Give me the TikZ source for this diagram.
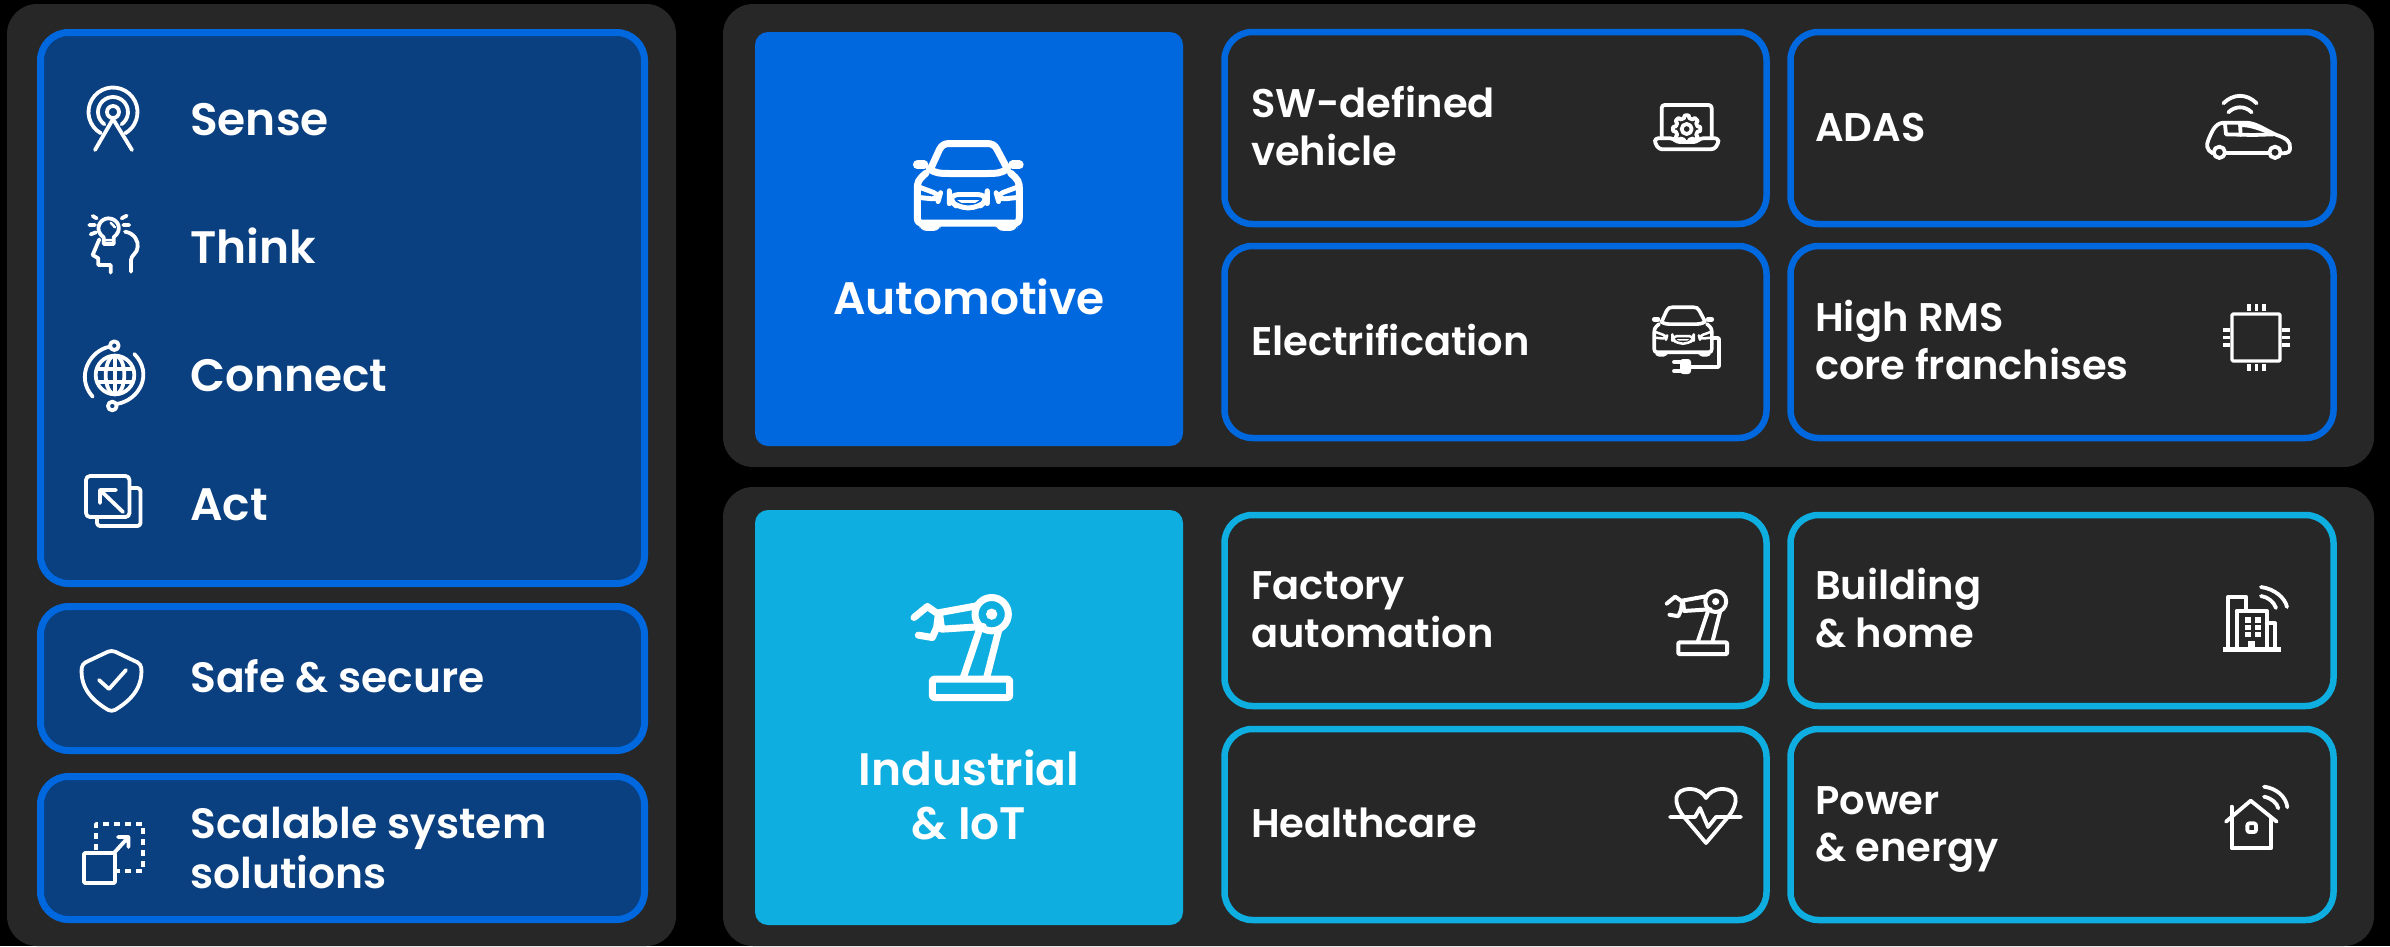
\documentclass[tikz,border=0pt]{standalone}
\usepackage{fontspec}
\setmainfont{Poppins SemiBold}
\definecolor{panel}{HTML}{272727}
\definecolor{mainblue}{HTML}{0068DE}
\definecolor{deepblue}{HTML}{0A3F80}
\definecolor{skyblue}{HTML}{0FAEE1}
\tikzset{
 panelbox/.style={fill=panel,rounded corners=30pt,anchor=north west,inner sep=0pt,outer sep=0pt},
 leftbox/.style={draw=mainblue,fill=deepblue,line width=7pt,rounded corners=28pt,anchor=north west,inner sep=0pt,outer sep=0pt},
 autocard/.style={draw=mainblue,line width=6.5pt,rounded corners=28pt,anchor=north west,inner sep=0pt,outer sep=0pt},
 indcard/.style={draw=skyblue,line width=6.5pt,rounded corners=28pt,anchor=north west,inner sep=0pt,outer sep=0pt},
 headbox/.style={rounded corners=13pt,anchor=north west,inner sep=0pt,outer sep=0pt},
 bigtext/.style={text=white,anchor=base west,align=left,inner sep=0pt,font=\fontsize{45.5}{50}\selectfont},
 lefttext/.style={text=white,anchor=base west,align=left,inner sep=0pt,font=\fontsize{42.4}{50}\selectfont},
 cardtext/.style={text=white,anchor=base west,align=left,inner sep=0pt,font=\fontsize{40}{47.5}\selectfont},
 headtext/.style={text=white,anchor=base,align=center,inner sep=0pt,font=\fontsize{45.5}{54}\selectfont},
 iconline/.style={draw=white,line width=#1,line cap=round,line join=round},
 iconline/.default=3.8pt,
 zoomed/.style 2 args={shift={(#1,#2)},scale=0.33333},
}
\newcommand{\caricon}[4]{%
 \begin{scope}[shift={(#1,#2)},scale=#3/3,shift={(-205,-165)}]
  \draw[iconline=#4] (92,112) -- (118,55) .. controls (125,40) and (135,36) .. (150,36) -- (260,36) .. controls (275,36) and (285,40) .. (292,55) -- (322,112);
  \draw[iconline=#4] (88,112) .. controls (105,125) and (120,126) .. (150,126) -- (260,126) .. controls (290,126) and (305,125) .. (322,112);
  \draw[iconline=#4] (78,125) .. controls (55,145) and (52,150) .. (52,175) -- (52,258) .. controls (52,272) and (58,275) .. (70,275) -- (340,275) .. controls (352,275) and (358,272) .. (358,258) -- (358,175) .. controls (358,150) and (355,145) .. (332,125);
  \draw[iconline=1.25*#4] (52,100) -- (72,100) (338,100) -- (358,100);
  \fill[white,rounded corners=#4] (58,270) rectangle (122,298) (288,270) rectangle (352,298);
  \draw[iconline=0.7*#4,rounded corners=#4] (58,167) -- (120,190) -- (116,204) -- (58,198);
  \draw[iconline=0.7*#4,rounded corners=#4] (352,167) -- (290,190) -- (294,204) -- (352,198);
  \draw[iconline=0.7*#4,rounded corners=1.3*#4] (148,189) -- (262,189) -- (262,205) -- (235,229) -- (175,229) -- (148,205) -- cycle;
  \fill[white] (172,206) -- (238,206) -- (226,214) -- (184,214) -- cycle;
 \end{scope}}
\newcommand{\roboticon}[5]{%
 \begin{scope}[shift={(#1,#2)},scale=#3/3,shift={(-186,-185)}]
  \draw[iconline=#4,rounded corners=#5] (97,280) rectangle (329,335);
  \draw[iconline=#4] (190,275) -- (237,135) (260,275) -- (297,130);
  \draw[iconline=#4] (275,85) circle (50);
  \fill[white] (275,85) circle (17);
  \draw[iconline=#4] (120,80) -- (230,60) (125,130) -- (250,122) (118,80) -- (125,130);
  \draw[iconline=#4] (42,95) -- (82,62) -- (115,85) -- (110,125) -- (97,155) -- (55,148);
 \end{scope}}
\begin{document}
\begin{tikzpicture}[x=1pt,y=-1pt]
\fill[black] (0,0) rectangle (2390,946);
\useasboundingbox (0,0) rectangle (2390,946);
% panels
\node[panelbox,minimum width=669pt,minimum height=942pt] (leftpanel) at (7,4) {};
\node[panelbox,minimum width=1651pt,minimum height=463pt] (autopanel) at (723,4) {};
\node[panelbox,minimum width=1651pt,minimum height=459pt] (indpanel) at (723,487) {};
% left boxes
\node[leftbox,minimum width=604pt,minimum height=551pt] (mainbox) at (40.5,32.5) {};
\node[leftbox,minimum width=604pt,minimum height=144pt] (safebox) at (40.5,606.5) {};
\node[leftbox,minimum width=604pt,minimum height=143pt] (scalebox) at (40.5,776.5) {};
% heads
\node[headbox,fill=mainblue,minimum width=428pt,minimum height=414pt] (autohead) at (755,32) {};
\node[headbox,fill=skyblue,minimum width=428pt,minimum height=415pt] (indhead) at (755,510) {};
% cards
\node[autocard,minimum width=542pt,minimum height=192pt] (c1) at (1224.5,32) {};
\node[autocard,minimum width=543pt,minimum height=192pt] (c2) at (1790.5,32) {};
\node[autocard,minimum width=542pt,minimum height=192pt] (c3) at (1224.5,246) {};
\node[autocard,minimum width=543pt,minimum height=192pt] (c4) at (1790.5,246) {};
\node[indcard,minimum width=542pt,minimum height=191pt] (c5) at (1224.5,515) {};
\node[indcard,minimum width=543pt,minimum height=191pt] (c6) at (1790.5,515) {};
\node[indcard,minimum width=542pt,minimum height=191pt] (c7) at (1224.5,729) {};
\node[indcard,minimum width=543pt,minimum height=191pt] (c8) at (1790.5,729) {};
% text
\node[bigtext] (t1) at (190,135.5) {Sense};
\node[bigtext] (t2) at (190,263.5) {Think};
\node[bigtext] (t3) at (190,391.5) {Connect};
\node[bigtext] (t4) at (190,520) {Act};
\node[lefttext] (t5) at (190,692) {Safe \& secure};
\node[lefttext] (t6) at (190,888) {Scalable system\\solutions};
\node[headtext] (h1) at (969,314) {Automotive};
\node[headtext] (h2) at (969,839) {Industrial\\\& IoT};
\node[cardtext] (l1) at (1251,165) {SW-defined\\vehicle};
\node[cardtext] (l2) at (1815,141) {ADAS};
\node[cardtext] (l3) at (1251,355) {Electrification};
\node[cardtext] (l4) at (1815,379) {High RMS\\core franchises};
\node[cardtext] (l5) at (1251,647) {Factory\\automation};
\node[cardtext] (l6) at (1815,647) {Building\\\& home};
\node[cardtext] (l7) at (1251,837) {Healthcare};
\node[cardtext] (l8) at (1815,861.5) {Power\\\& energy};
% Sense icon
\draw[iconline] (113,112) ++(120:24.5) arc[start angle=120,end angle=420,radius=24.5];
\draw[iconline] (113,112) ++(125:15) arc[start angle=125,end angle=415,radius=15];
\draw[iconline] (113,112) circle (6);
\draw[iconline] (95,150) -- (113,119) -- (132,150);
% Think icon
\begin{scope}[zoomed={70}{200}]
 \draw[iconline] (101,112) .. controls (70,90) and (90,55) .. (115,55) .. controls (145,55) and (160,90) .. (131,112) -- (131,132) -- (101,132) -- cycle;
 \draw[iconline=2.5pt] (105,120) -- (128,120) (122,68) -- (135,82);
 \draw[iconline] (68,48) -- (80,55) (58,75) -- (75,75) (62,103) -- (78,97) (155,55) -- (170,47) (160,75) -- (178,75);
 \draw[iconline] (165,95) .. controls (195,100) and (205,125) .. (203,140) .. controls (203,160) and (183,165) .. (183,180) -- (183,215);
 \draw[iconline] (88,118) -- (68,165) -- (85,175) -- (85,195) -- (122,195) -- (122,218);
\end{scope}
% Connect icon
\begin{scope}[zoomed={70}{200}]
 \draw[iconline] (135,525) circle (58);
 \draw[iconline] (135,525) ellipse (28 and 58);
 \draw[iconline] (135,467) -- (135,583) (82,507) -- (188,507) (82,545) -- (188,545);
 \draw[iconline] (120,440) .. controls (60,450) and (15,530) .. (68,590);
 \draw[iconline] (140,612) .. controls (210,600) and (250,520) .. (193,462);
 \draw[iconline] (133,437) circle (13);
 \draw[iconline] (127,618) circle (13);
\end{scope}
% Act icon
\draw[iconline,rounded corners=4pt] (86,476) rectangle (129.5,517);
\draw[iconline,rounded corners=3pt] (97,518) -- (97,526) -- (140.5,526) -- (140.5,488) -- (130,488);
\draw[iconline] (123,512) -- (100,490) (100,503) -- (100,490) -- (116,490);
% Shield icon
\draw[iconline,rounded corners=4pt] (111.6,650) -- (82,664) .. controls (80,690) and (95,702) .. (111.6,712) .. controls (128,702) and (143,690) .. (141,664) -- cycle;
\draw[iconline] (99,680) -- (109,689) -- (126,670);
% Scalable icon
\draw[iconline,rounded corners=1pt] (84,853) rectangle (115,883);
\draw[iconline,line cap=butt,dash pattern=on 6pt off 5pt] (96,850) -- (96,824) -- (143,824) -- (143,871) -- (115,871);
\draw[iconline] (114,853) -- (128.5,837) (118,837) -- (128.5,837) -- (128.5,847);
% Head icons
\caricon{968.3}{186.5}{1}{7pt}
\roboticon{962}{647.5}{1}{7pt}{2pt}
% Laptop
\begin{scope}[zoomed={1640}{90}]
 \draw[iconline=3.8pt,rounded corners=3pt] (65,145) -- (65,45) -- (215,45) -- (215,145);
 \draw[iconline=3.8pt] plot[domain=0:360,samples=145] ({140+(37+8*max(-.5,min(.5,1.6*cos(8*\x))))*cos(\x)},{117+(37+8*max(-.5,min(.5,1.6*cos(8*\x))))*sin(\x)});
 \draw[iconline=3.8pt] (140,117) circle (15);
 \fill[panel] (90,150) rectangle (190,170);
 \draw[iconline=3.8pt,rounded corners=3pt] (45,145) -- (100,145) -- (110,156) -- (170,156) -- (180,145) -- (235,145) -- (235,160) -- (222,178) -- (58,178) -- (45,160) -- cycle;
\end{scope}
% ADAS
\begin{scope}[zoomed={2190}{85}]
 \draw[iconline] (68,205) .. controls (50,195) and (48,180) .. (55,165) .. controls (65,140) and (75,115) .. (100,113) -- (170,113) .. controls (200,115) and (225,135) .. (260,150) .. controls (290,160) and (302,170) .. (300,190) .. controls (300,200) and (295,205) .. (275,205);
 \draw[iconline] (108,203) -- (235,203);
 \draw[iconline] (88,202) circle (17) (255,202) circle (17);
 \draw[iconline] (105,118) -- (108,148) -- (190,150) -- (250,148);
 \draw[iconline] (150,118) -- (152,150) (150,120) .. controls (185,120) and (220,135) .. (250,148);
 \draw[iconline] (100,55) .. controls (130,25) and (170,25) .. (200,55);
 \draw[iconline] (115,82) .. controls (135,62) and (165,62) .. (185,82);
\end{scope}
% Electrification
\caricon{1683}{331.5}{0.565}{3.6pt}
\draw[iconline,rounded corners=1pt] (1712,338) -- (1719,338) -- (1719,367) -- (1691,367);
\fill[white,rounded corners=3pt] (1680,359) rectangle (1691,374);
\draw[iconline] (1674,362) -- (1680,362) (1674,371) -- (1680,371);
% Chip
\draw[iconline=3.2pt,rounded corners=1pt] (2232,314) rectangle (2280,361);
\draw[iconline=3.2pt,line cap=butt] (2249,304) -- (2249,311) (2256.5,304) -- (2256.5,311) (2264,304) -- (2264,311)
 (2249,364) -- (2249,371) (2256.5,364) -- (2256.5,371) (2264,364) -- (2264,371)
 (2223,330) -- (2230,330) (2223,337.5) -- (2230,337.5) (2223,345) -- (2230,345)
 (2282,330) -- (2290,330) (2282,337.5) -- (2290,337.5) (2282,345) -- (2290,345);
% Small robot
\roboticon{1697}{622.5}{0.63}{4pt}{0.8pt}
% Building
\begin{scope}[zoomed={2210}{590}]
 \draw[iconline=4.5pt,line cap=butt] (40,178) -- (212,178);
 \draw[iconline] (55,178) -- (55,20) -- (108,20) -- (108,60);
 \draw[iconline] (80,178) -- (80,62) -- (170,62) -- (170,178);
 \draw[iconline] (170,100) -- (195,100) -- (195,178);
 \foreach \u in {104,134} \foreach \v in {82,104,126} \fill[white] (\u,\v) rectangle +(18,16);
 \fill[white] (115,178) -- (115,152) -- (135,152) -- (135,178) -- cycle;
\end{scope}
\draw[iconline] (2261,587) .. controls (2275,589) and (2285,598) .. (2287,607);
\draw[iconline] (2261,596) .. controls (2268,597) and (2274,602) .. (2276,608);
% Heart
\draw[iconline] (1684,817) .. controls (1672,802) and (1674,789) .. (1690,789) .. controls (1698,789) and (1703,793) .. (1706,798) .. controls (1709,793) and (1714,789) .. (1722,789) .. controls (1738,789) and (1740,802) .. (1728,817);
\draw[iconline] (1684,817) -- (1706,843) -- (1728,817);
\draw[iconline] (1670,817) -- (1695,817) -- (1700,808) -- (1708,827) -- (1716,817) -- (1741,817);
% House
\begin{scope}[zoomed={2210}{590}]
 \draw[iconline] (48,695) -- (122,632) -- (200,695);
 \draw[iconline] (65,685) -- (65,775) -- (183,775) -- (183,685);
 \draw[iconline] (65,650) -- (65,680);
 \draw[iconline,rounded corners=2pt] (112,700) rectangle (138,726);
 \draw[iconline] (162,590) .. controls (200,595) and (228,620) .. (232,652);
 \draw[iconline] (162,620) .. controls (185,625) and (200,638) .. (205,655);
\end{scope}
\end{tikzpicture}
\end{document}
